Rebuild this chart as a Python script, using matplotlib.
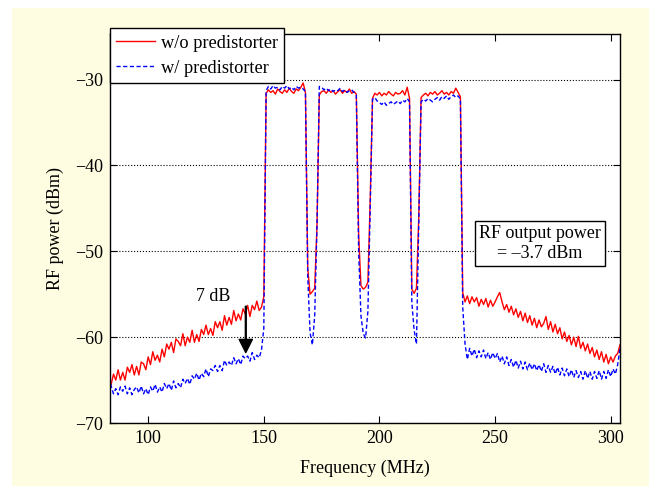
import numpy as np
import matplotlib.pyplot as plt
from matplotlib.patches import Rectangle

# Spectrum samples, 1 MHz step from 83 to 304 MHz
freq = np.arange(83, 305)

# w/o predistorter (red) -- lower skirt, four carriers, upper skirt
red_left = [-64.6, -65.5, -64.3, -65.0, -63.8, -65.0, -64.1, -65.0, -63.5, -64.1,
            -63.2, -64.4, -63.4, -64.4, -62.9, -63.1, -63.8, -62.3, -63.2, -61.7,
            -62.7, -62.1, -62.9, -61.4, -62.3, -60.8, -61.4, -60.6, -61.8, -60.2,
            -60.5, -61.0, -59.6, -61.0, -60.0, -60.6, -59.2, -60.6, -59.7, -60.5,
            -59.1, -59.7, -58.6, -59.7, -59.0, -59.8, -58.2, -58.9, -58.2, -59.2,
            -57.5, -58.6, -57.7, -58.5, -56.9, -58.1, -57.3, -58.0, -56.7, -57.3,
            -56.3, -57.6, -56.3, -56.8, -55.8, -56.9, -56.5, -55.3]
red_band = [-31.6, -31.2, -31.5, -31.3, -31.7, -31.1, -31.4, -31.6, -31.2, -31.5,
            -31.0, -31.4, -31.6, -31.1, -31.3, -30.9, -30.4, -31.5,
            -52.0, -55.0, -54.7, -54.3, -47.0,
            -31.8, -31.4, -31.3, -31.6, -31.2, -31.5, -31.3, -31.7, -31.4, -31.2,
            -31.6, -31.3, -31.5, -31.1, -31.6, -31.4, -31.7,
            -48.0, -54.0, -54.4, -54.2, -53.6, -44.0,
            -32.2, -31.6, -31.8, -31.5, -31.9, -31.6, -31.8, -31.4, -31.7, -31.9,
            -31.5, -31.7, -31.6, -31.3, -31.8, -30.9, -32.2,
            -54.4, -54.9, -54.3, -46.0,
            -32.1, -31.8, -31.6, -31.9, -31.5, -31.7, -31.4, -31.8, -31.6, -31.3,
            -31.7, -31.5, -31.8, -31.4, -31.6, -31.0, -31.5, -32.0]
red_right = [-54.8, -55.9, -55.2, -56.1, -55.3, -55.9, -55.4, -56.4, -55.6, -56.2,
             -55.5, -56.5, -55.7, -56.4, -55.9, -55.3, -54.8, -55.9, -56.8, -56.2,
             -57.1, -56.4, -57.4, -56.7, -57.7, -57.0, -58.1, -57.2, -58.3, -57.5,
             -58.6, -57.8, -58.9, -58.0, -58.8, -58.4, -57.6, -59.1, -58.2, -59.4,
             -58.5, -59.6, -58.9, -60.2, -59.4, -60.5, -59.8, -60.9, -60.0, -61.1,
             -59.9, -61.3, -60.6, -61.6, -60.8, -61.9, -61.2, -62.3, -61.5, -62.6,
             -61.7, -62.9, -62.0, -63.1, -62.3, -62.9, -62.2, -61.9, -60.9]

# w/ predistorter (blue)
blue_left = [-64.7, -65.7, -66.6, -66.0, -66.7, -65.8, -66.3, -65.7, -66.6, -65.9,
             -66.7, -66.1, -65.8, -66.5, -65.7, -66.6, -66.0, -66.7, -65.8, -66.3,
             -65.5, -66.4, -65.8, -66.4, -65.4, -66.0, -65.4, -66.2, -65.1, -65.9,
             -65.4, -65.9, -64.9, -65.4, -64.8, -65.5, -64.5, -64.9, -64.2, -65.0,
             -64.2, -64.6, -63.7, -64.6, -63.7, -63.9, -63.3, -64.0, -63.3, -63.9,
             -62.7, -63.3, -62.9, -63.3, -62.4, -63.1, -62.5, -63.2, -62.2, -62.5,
             -62.2, -62.8, -61.8, -62.6, -62.1, -62.4, -61.5, -59.0]
blue_band = [-31.3, -30.8, -31.1, -30.7, -31.0, -30.9, -31.2, -30.8, -31.0, -30.7,
             -31.1, -30.9, -31.2, -30.8, -31.0, -30.9, -31.1, -31.4,
             -53.0, -59.5, -60.9, -57.5, -47.0,
             -30.8, -30.9, -31.2, -31.0, -31.3, -31.1, -31.4, -31.2, -31.3, -31.0,
             -31.4, -31.2, -31.5, -31.3, -31.2, -31.5, -31.8,
             -50.0, -57.5, -59.6, -60.1, -57.0, -45.0,
             -32.3, -32.1, -32.5, -32.7, -32.9, -32.6, -33.0, -32.8, -32.6, -32.9,
             -32.7, -32.5, -32.8, -32.4, -32.6, -32.2, -32.6,
             -56.0, -59.2, -60.8, -47.0,
             -32.6, -32.3, -32.5, -32.2, -32.4, -32.6, -32.3, -32.1, -32.4, -32.0,
             -32.2, -31.9, -32.3, -32.0, -31.8, -32.1, -31.9, -32.3]
blue_right = [-56.5, -60.8, -62.6, -61.3, -62.2, -61.4, -62.4, -61.6, -62.3, -61.5,
              -62.5, -61.8, -62.6, -61.8, -62.5, -61.9, -62.9, -62.2, -63.1, -62.3,
              -63.3, -62.6, -63.5, -62.7, -63.6, -62.8, -63.7, -62.9, -63.8, -63.0,
              -63.8, -63.1, -63.9, -63.2, -64.0, -63.1, -64.1, -63.3, -64.1, -63.4,
              -64.3, -63.5, -64.4, -63.6, -64.5, -63.7, -64.6, -63.8, -64.7, -63.9,
              -64.7, -64.0, -64.9, -63.9, -64.8, -64.0, -64.9, -64.0, -64.8, -63.9,
              -64.9, -64.0, -64.8, -63.8, -64.6, -63.7, -64.3, -63.2, -61.3]

red = np.array(red_left + red_band + red_right)
blue = np.array(blue_left + blue_band + blue_right)

xticks = [100, 150, 200, 250, 300]
yticks = [-70, -60, -50, -40, -30]

plt.rcParams['font.family'] = ['Liberation Serif', 'DejaVu Serif']
plt.rcParams['font.size'] = 13

fig = plt.figure(figsize=(6.49, 4.86), dpi=100)
fig.patch.set_facecolor('white')
# pale yellow panel behind the plot
fig.patches.append(Rectangle((12 / 649, 0), 637 / 649, 478 / 486,
                             transform=fig.transFigure, facecolor='#FFFDE1',
                             edgecolor='none', zorder=-1))

ax = fig.add_axes([0.1695, 0.1296, 0.7858, 0.8004])
ax.plot(freq, red, color='#FF0000', lw=1.0, label='w/o predistorter')
ax.plot(freq, blue, color='#0000FF', lw=1.0, ls=(0, (3, 1.8)), label='w/ predistorter')

ax.set_xlim(83.5, 304)
ax.set_ylim(-70, -24.7)
ax.set_xticks(xticks)
ax.set_yticks(yticks)
ax.yaxis.grid(True, linestyle=':', color='black', lw=0.8)
ax.tick_params(direction='in', top=True, right=True, length=5, width=0.8, labelsize=13, pad=5)
for s in ax.spines.values():
    s.set_linewidth(1.0)

ax.set_xlabel('Frequency (MHz)', fontsize=13, labelpad=9)
ax.set_ylabel('RF power (dBm)', fontsize=13, labelpad=8)

leg = ax.legend(loc='upper left', bbox_to_anchor=(0.0, 1.015), borderaxespad=0,
                fancybox=False, edgecolor='black', framealpha=1, fontsize=13.25,
                handlelength=2.1, handletextpad=0.3, labelspacing=0.45, borderpad=0.35)
leg.get_frame().set_linewidth(1.0)

# 7 dB improvement marker
ax.annotate('', xy=(142.2, -61.8), xytext=(142.2, -56.4),
            arrowprops=dict(facecolor='black', edgecolor='black', width=0.6,
                            headwidth=9.5, headlength=9.5, shrink=0))
ax.text(128.3, -55.3, '7 dB', ha='center', va='center', fontsize=13)

ax.text(269.4, -49.1, 'RF output power\n= –3.7 dBm', ha='center', va='center',
        fontsize=13, linespacing=1.25,
        bbox=dict(boxstyle='square,pad=0.2', facecolor='white', edgecolor='black', lw=1.0))

plt.savefig('out.png', dpi=100)
